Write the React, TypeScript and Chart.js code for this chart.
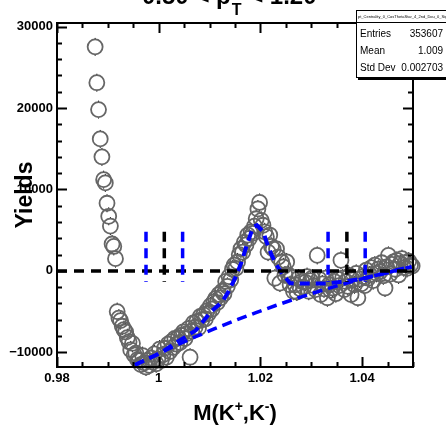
import React, { useEffect, useRef } from 'react';
import { Chart, registerables } from 'chart.js';

Chart.register(...registerables);

// Histogram axis definition (TH1: 210 bins from 0.98 to 1.05)
const HIST_XMIN = 0.98;
const HIST_XMAX = 1.05;
const HIST_NBINS = 210;
const FIRST_FILLED_BIN = 22;

// Bin contents (yields), from bin 22 upward
const yields: number[] = [
  27500, 23100, 19800, 16200, 14000, 11200, 10800, 8300, 6700, 5500,
  3300, 3000, 1500, -5000, -5800, -6100, -6800, -7200, -7500, -8200,
  -8700, -9700, -8900, -10300, -10100, -10900, -11000, -11500, -10400, -11300,
  -11800, -11000, -11600, -10700, -11200, -10200, -11400, -10800, -9600, -11000,
  -10300, -9500, -10600, -9000, -9900, -8700, -9400, -8300, -9000, -8200,
  -8800, -7900, -7500, -8300, -7700, -7100, -10600, -7400, -6400, -6900,
  -6200, -7000, -5600, -6000, -5400, -5900, -4900, -5200, -4300, -4700,
  -3800, -3400, -3900, -2900, -3300, -2500, -2800, -1300, -1900, -700,
  -1100, 200, 700, 300, 1100, 2000, 2700, 2300, 3500, 3200,
  4400, 4000, 4800, 4600, 5500, 6400, 7600, 8400, 6200, 5600,
  4800, 4200, 2300, 4400, 3000, 2700, -900, 2700, 1700, -1500,
  1100, 500, -500, 1100, -500, -1700, -800, -2500, -1700, -2600,
  -900, -2200, -1300, -2000, -1400, -700, -2500, -1200, -900, -1800,
  -2300, 1900, -1000, -2900, -1600, -2200, -900, -3300, -1700, -2400,
  -2100, -1300, -2800, -1000, -1800, 1300, -900, -2300, -1300, -1900,
  -600, -2900, -1100, -1700, -300, -3300, -1000, -1600, -700, -1800,
  100, -900, -500, 400, -1200, 700, -300, 200, -100, 1000,
  -600, -2100, 500, 1900, -400, 800, 1100, 200, 1300, -500,
  900, 1500, 400, 1000, 300, 1200, 700, 600,
];
const yieldError = 1100;

// Total fit function (signal + background), sampled points
const fitX = [0.9953, 1.0003, 1.0042, 1.0073, 1.0103, 1.0125, 1.0137, 1.015, 1.0163, 1.0173, 1.018, 1.0186, 1.0193, 1.0206, 1.0212, 1.0222, 1.0232, 1.0245, 1.0258, 1.0268, 1.033, 1.037, 1.04, 1.043, 1.047, 1.0497];
const fitY = [-11550, -10100, -8500, -7300, -5000, -3800, -2570, -930, 1100, 3150, 4400, 5400, 5600, 4780, 3550, 1920, 700, -530, -1500, -1550, -1550, -1250, -980, -500, 100, 500];

// Background function
const bgX = [0.9953, 0.999, 1.003, 1.007, 1.011, 1.015, 1.019, 1.023, 1.027, 1.031, 1.035, 1.039, 1.043, 1.047, 1.0497];
const bgY = [-11550, -10450, -9250, -8150, -7100, -6100, -5150, -4250, -3400, -2600, -1850, -1150, -500, 100, 500];

// Vertical marker lines (signal / sideband windows)
const markerLineX = [0.9975, 1.0011, 1.0047, 1.0333, 1.037, 1.0406];
const markerLineColor = ['#0000ff', '#000000', '#0000ff', '#0000ff', '#000000', '#0000ff'];
const markerLineYLow = -1350;
const markerLineYHigh = 4800;

// Axes
const xMin = 0.98;
const xMax = 1.05;
const yMin = -11800;
const yMax = 30430;
const xTickValues = [0.98, 1.0, 1.02, 1.04];
const xTickLabels = ['0.98', '1', '1.02', '1.04'];
const xMinorStep = 0.005;
const yTickValues = [-10000, 0, 10000, 20000, 30000];
const yTickLabels = ['\u221210000', '0', '10000', '20000', '30000'];
const yMinorStep = 2000;

// Stats box
const statsTitle = 'pt_Centrality_0_CosThetaStar_4_2nd_Dou_0_Sig_0_Phi_Norm';
const statsNames = ['Entries', 'Mean', 'Std Dev'];
const statsValues = ['353607', '1.009', '0.002703'];

const FONT = '"Liberation Sans", Arial, Helvetica, sans-serif';

function binCenter(i: number) {
  return HIST_XMIN + (i + 0.5) * (HIST_XMAX - HIST_XMIN) / HIST_NBINS;
}

const rootPlugin = {
  id: 'rootStyle',
  beforeDatasetsDraw(chart: any) {
    const ctx = chart.ctx;
    const xs = chart.scales.x;
    const ys = chart.scales.y;
    const r = 7.5;
    ctx.save();
    ctx.strokeStyle = '#000';
    ctx.lineWidth = 1;
    yields.forEach((v, k) => {
      const px = xs.getPixelForValue(binCenter(FIRST_FILLED_BIN + k));
      const py = ys.getPixelForValue(v);
      const e = Math.abs(ys.getPixelForValue(v + yieldError) - py);
      if (e > r) {
        ctx.beginPath();
        ctx.moveTo(px, py - e);
        ctx.lineTo(px, py - r);
        ctx.moveTo(px, py + r);
        ctx.lineTo(px, py + e);
        ctx.stroke();
      }
    });
    ctx.restore();
  },
  afterDatasetsDraw(chart: any) {
    const ctx = chart.ctx;
    const xs = chart.scales.x;
    const ys = chart.scales.y;
    const a = chart.chartArea;
    ctx.save();

    // zero line
    const y0 = ys.getPixelForValue(0);
    ctx.setLineDash([10, 7]);
    ctx.lineWidth = 3.5;
    ctx.strokeStyle = '#000';
    ctx.beginPath();
    ctx.moveTo(a.left, y0);
    ctx.lineTo(a.right, y0);
    ctx.stroke();

    // vertical window lines
    ctx.setLineDash([10, 6.5]);
    markerLineX.forEach((xv, i) => {
      const px = xs.getPixelForValue(xv);
      ctx.strokeStyle = markerLineColor[i];
      ctx.lineWidth = 3.5;
      ctx.beginPath();
      ctx.moveTo(px, ys.getPixelForValue(markerLineYHigh));
      ctx.lineTo(px, ys.getPixelForValue(markerLineYLow));
      ctx.stroke();
    });
    ctx.setLineDash([]);

    // frame
    ctx.strokeStyle = '#000';
    ctx.lineWidth = 2;
    ctx.strokeRect(a.left, a.top, a.right - a.left, a.bottom - a.top);

    // ticks
    ctx.lineWidth = 2;
    ctx.beginPath();
    const nx = Math.round((xMax - xMin) / xMinorStep);
    for (let k = 0; k <= nx; k++) {
      const v = xMin + k * xMinorStep;
      const px = Math.round(xs.getPixelForValue(v)) + 0.5;
      const major = xTickValues.some((t) => Math.abs(t - v) < 1e-9);
      const len = major ? 10 : 5;
      ctx.moveTo(px, a.bottom);
      ctx.lineTo(px, a.bottom - len);
      ctx.moveTo(px, a.top);
      ctx.lineTo(px, a.top + len);
    }
    const yStart = Math.ceil(yMin / yMinorStep) * yMinorStep;
    for (let v = yStart; v <= yMax; v += yMinorStep) {
      const py = Math.round(ys.getPixelForValue(v)) + 0.5;
      const major = yTickValues.includes(v);
      const len = major ? 10 : 5;
      ctx.moveTo(a.left, py);
      ctx.lineTo(a.left + len, py);
      ctx.moveTo(a.right, py);
      ctx.lineTo(a.right - len, py);
    }
    ctx.stroke();

    // stats box
    ctx.fillStyle = '#000';
    ctx.fillRect(358, 12, 90, 68);
    ctx.fillStyle = '#fff';
    ctx.fillRect(356, 10, 90, 68);
    ctx.strokeStyle = '#000';
    ctx.lineWidth = 1;
    ctx.strokeRect(356.5, 10.5, 92, 67);
    ctx.beginPath();
    ctx.moveTo(356, 22.5);
    ctx.lineTo(446, 22.5);
    ctx.stroke();
    ctx.fillStyle = '#000';
    ctx.font = `4px ${FONT}`;
    ctx.textBaseline = 'middle';
    ctx.textAlign = 'left';
    ctx.fillText(statsTitle, 358, 16.5);
    ctx.font = `10px ${FONT}`;
    const rowY = [34, 51, 68];
    statsNames.forEach((n, i) => {
      ctx.textAlign = 'left';
      ctx.fillText(n, 360, rowY[i]);
      ctx.textAlign = 'right';
      ctx.fillText(statsValues[i], 443, rowY[i]);
    });

    // x axis title
    ctx.textAlign = 'left';
    ctx.textBaseline = 'alphabetic';
    const big = `bold 22px ${FONT}`;
    const small = `bold 14px ${FONT}`;
    const parts: [string, boolean][] = [['M(K', false], ['+', true], [',K', false], ['-', true], [')', false]];
    let tw = 0;
    parts.forEach(([s, sup]) => { ctx.font = sup ? small : big; tw += ctx.measureText(s).width; });
    let tx = (a.left + a.right) / 2 - tw / 2;
    const tb = 420;
    parts.forEach(([s, sup]) => {
      ctx.font = sup ? small : big;
      ctx.fillText(s, tx, sup ? tb - 9 : tb);
      tx += ctx.measureText(s).width;
    });

    // y axis title
    ctx.save();
    ctx.translate(26, (a.top + a.bottom) / 2);
    ctx.rotate(-Math.PI / 2);
    ctx.font = `bold 23px ${FONT}`;
    ctx.textAlign = 'center';
    ctx.textBaseline = 'middle';
    ctx.fillText('Yields', 0, 0);
    ctx.restore();

    // title (mostly above the page)
    ctx.textAlign = 'left';
    ctx.textBaseline = 'alphabetic';
    const tA = '0.50 < p';
    const tB = ' < 1.20';
    ctx.font = `bold 24px ${FONT}`;
    const wA = ctx.measureText(tA).width;
    let x0 = 142;
    ctx.fillText(tA, x0, 4);
    x0 += wA + 1;
    ctx.font = `bold 16px ${FONT}`;
    ctx.fillText('T', x0, 15);
    x0 += ctx.measureText('T').width + 1;
    ctx.font = `bold 24px ${FONT}`;
    ctx.fillText(tB, x0, 4);

    ctx.restore();
  },
};

export default function App() {
  const ref = useRef<HTMLCanvasElement | null>(null);
  useEffect(() => {
    document.body.style.margin = '0';
    const canvas = ref.current;
    if (!canvas) return;
    const histPts = yields.map((v, k) => ({ x: binCenter(FIRST_FILLED_BIN + k), y: v }));
    const fitPts = fitX.map((x, i) => ({ x, y: fitY[i] }));
    const bgPts = bgX.map((x, i) => ({ x, y: bgY[i] }));
    const tickFont = { family: FONT, weight: 'bold' as const, size: 13 };
    const chart = new Chart(canvas, {
      type: 'scatter',
      data: {
        datasets: [
          { type: 'line', data: fitPts, borderColor: '#0000ff', borderWidth: 4, borderDash: [10, 6], pointRadius: 0, fill: false, tension: 0, order: 0 } as any,
          { type: 'line', data: bgPts, borderColor: '#0000ff', borderWidth: 3.5, borderDash: [10, 6], pointRadius: 0, fill: false, tension: 0, order: 0 } as any,
          { type: 'scatter', data: histPts, pointStyle: 'circle', pointRadius: 7.5, borderColor: '#666666', borderWidth: 1.8, backgroundColor: 'rgba(0,0,0,0)', order: 1, clip: false } as any,
        ],
      },
      options: {
        animation: false,
        responsive: false,
        devicePixelRatio: 1,
        events: [],
        layout: { padding: { left: 0, top: 23, right: 33, bottom: 0 } },
        plugins: { legend: { display: false }, tooltip: { enabled: false } },
        scales: {
          x: {
            type: 'linear',
            min: xMin,
            max: xMax,
            grid: { display: false, drawTicks: false },
            border: { display: false },
            afterFit: (s: any) => { s.height = 58; },
            afterBuildTicks: (s: any) => { s.ticks = xTickValues.map((v) => ({ value: v })); },
            ticks: {
              autoSkip: false,
              maxRotation: 0,
              minRotation: 0,
              padding: 4,
              color: '#000',
              font: tickFont,
              callback: (v: any) => {
                const i = xTickValues.findIndex((t) => Math.abs(t - Number(v)) < 1e-9);
                return i >= 0 ? xTickLabels[i] : '';
              },
            },
          },
          y: {
            type: 'linear',
            min: yMin,
            max: yMax,
            grid: { display: false, drawTicks: false },
            border: { display: false },
            afterFit: (s: any) => { s.width = 57; },
            afterBuildTicks: (s: any) => { s.ticks = yTickValues.map((v) => ({ value: v })); },
            ticks: {
              autoSkip: false,
              padding: 4,
              color: '#000',
              font: tickFont,
              callback: (v: any) => {
                const i = yTickValues.findIndex((t) => Math.abs(t - Number(v)) < 1e-6);
                return i >= 0 ? yTickLabels[i] : '';
              },
            },
          },
        },
      },
      plugins: [rootPlugin],
    });
    return () => chart.destroy();
  }, []);
  return (
    <div style={{ width: 446, height: 425, position: 'relative', background: '#fff' }}>
      <canvas ref={ref} width={446} height={425} style={{ display: 'block' }} />
    </div>
  );
}
